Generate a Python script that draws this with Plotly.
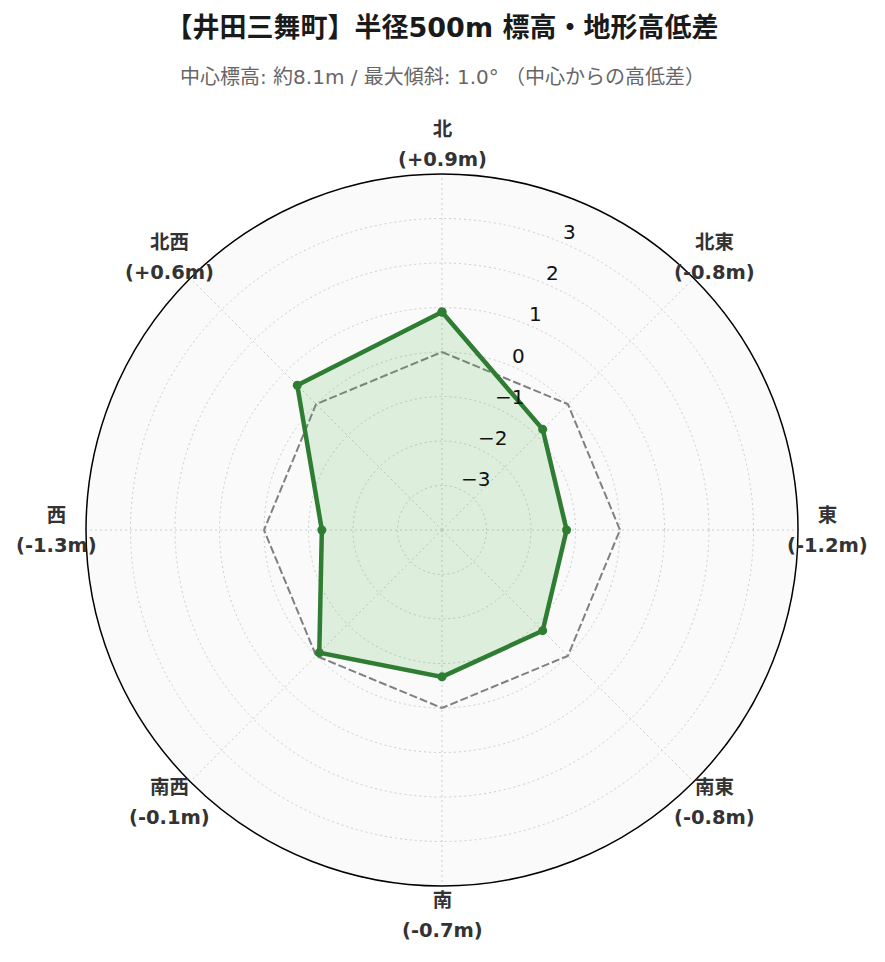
import math
import plotly.graph_objects as go

DIRECTIONS = ["北", "北東", "東", "南東", "南", "南西", "西", "北西"]
DIFFS = [0.9, -0.8, -1.2, -0.8, -0.7, -0.1, -1.3, 0.6]
BASELINE = [0, 0, 0, 0, 0, 0, 0, 0]
RADIAL_TICKS = [-3, -2, -1, 0, 1, 2, 3]
R_RANGE = [-4, 4]
LABEL_R = 4.67     # direction labels sit a bit outside the outer circle
RLABEL_ANGLE = 67.5  # where the radial tick labels run

TITLE = "【井田三舞町】半径500m 標高・地形高低差"
SUBTITLE = "中心標高: 約8.1m / 最大傾斜: 1.0° （中心からの高低差）"

GREEN = "#2e7d32"
FONT = "DejaVu Sans, Noto Sans CJK JP"

# page body has an 8px margin, so the margins are shifted by that
W, H = 885, 962
M = dict(l=78, r=95, t=166, b=84)
plot_w = W - M["l"] - M["r"]
plot_h = H - M["t"] - M["b"]
span = R_RANGE[1] - R_RANGE[0]


def polar_to_paper(r, deg_from_north):
    # paper coords of a radial value at a compass angle (clockwise from north)
    frac = (r - R_RANGE[0]) / span * 0.5
    a = math.radians(deg_from_north)
    return 0.5 + frac * math.sin(a), 0.5 + frac * math.cos(a)


fig = go.Figure()

# zero line (center elevation)
fig.add_trace(go.Scatterpolar(
    r=BASELINE + BASELINE[:1],
    theta=DIRECTIONS + DIRECTIONS[:1],
    mode="lines",
    line=dict(color="gray", width=2, dash="8px,3px"),
    hoverinfo="skip",
    showlegend=False,
))

fig.add_trace(go.Scatterpolar(
    r=DIFFS + DIFFS[:1],
    theta=DIRECTIONS + DIRECTIONS[:1],
    mode="lines+markers",
    fill="toself",
    fillcolor="rgba(76,175,80,0.17)",
    line=dict(color=GREEN, width=4.5),
    marker=dict(size=9, color=GREEN),
    showlegend=False,
))

annotations = []

# direction labels centered just outside the circle (matplotlib style)
for i, (d, v) in enumerate(zip(DIRECTIONS, DIFFS)):
    x, y = polar_to_paper(LABEL_R, i * 360 / len(DIRECTIONS))
    annotations.append(dict(
        # outer size sets line spacing, span sets glyph size
        text=f"<span style='font-size:19.5px'><b>{d}</b><br><b>({v:+.1f}m)</b></span>",
        xref="paper", yref="paper", x=x, y=y,
        xanchor="center", yanchor="middle", showarrow=False,
        font=dict(size=23, color="#333333", family=FONT),
    ))

# radial tick labels, upright, left-aligned next to the axis point
for t in RADIAL_TICKS:
    x, y = polar_to_paper(t, 90 - RLABEL_ANGLE)
    annotations.append(dict(
        text=f"{t}".replace("-", "\u2212"),
        xref="paper", yref="paper", x=x, y=y,
        xanchor="left", yanchor="middle", xshift=0, yshift=10,
        showarrow=False,
        font=dict(size=20, color="#111111", family="DejaVu Sans"),
    ))

annotations.append(dict(
    text=SUBTITLE,
    xref="paper", yref="paper", x=0.5, y=(H - M["b"] - 69) / plot_h,
    xanchor="center", yanchor="middle", showarrow=False,
    font=dict(size=20, color="#666666", family=FONT),
))

fig.update_layout(
    width=W,
    height=H,
    paper_bgcolor="white",
    font=dict(family=FONT),
    margin=M,
    title=dict(
        text=f"<b>{TITLE}</b>",
        x=0.5 - 8.5 / W, xanchor="center", y=1 - 20 / H, yanchor="middle",
        font=dict(size=27, color="#1a1a1a", family=FONT),
    ),
    annotations=annotations,
    polar=dict(
        bgcolor="#fafafa",
        radialaxis=dict(
            range=R_RANGE,
            tickvals=RADIAL_TICKS,
            angle=RLABEL_ANGLE,
            showline=False,
            showticklabels=False,
            ticks="",
            gridcolor="#cccccc",
            griddash="2px,3px",
        ),
        angularaxis=dict(
            rotation=90,
            direction="clockwise",
            showline=True,
            linecolor="black",
            linewidth=1.5,
            gridcolor="#cccccc",
            griddash="2px,3px",
            ticks="",
            showticklabels=False,
        ),
    ),
)

fig.write_html("out.html")
